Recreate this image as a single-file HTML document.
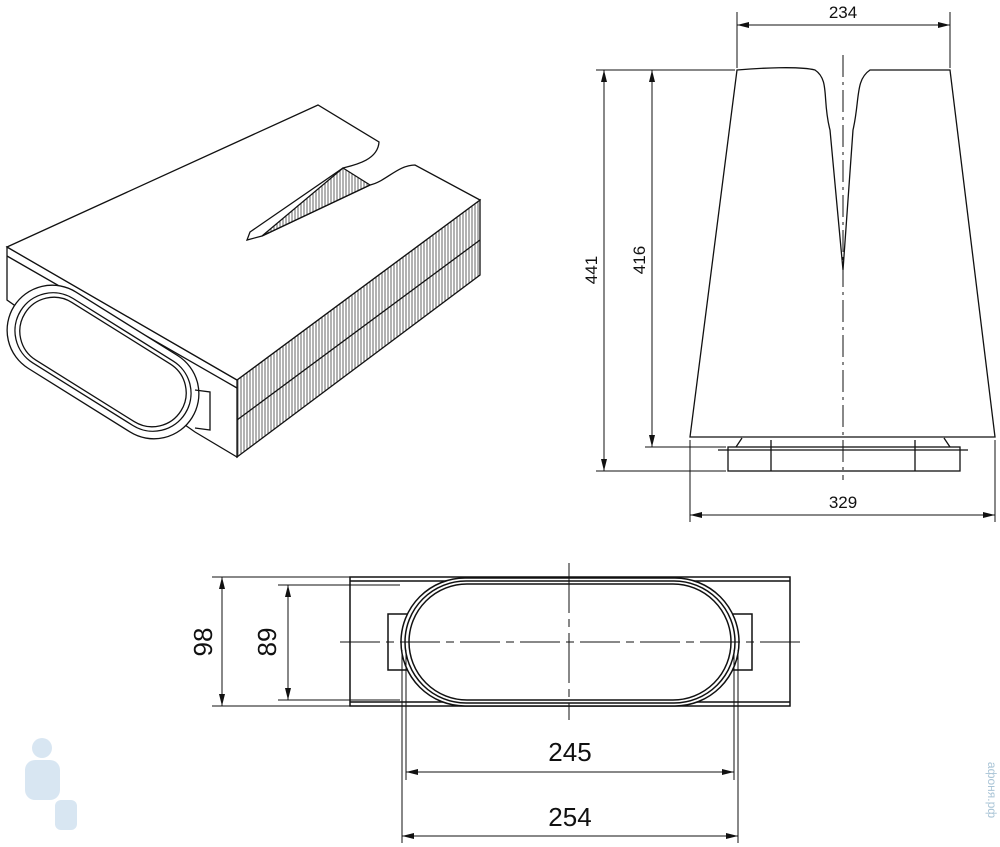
<!DOCTYPE html>
<html><head><style>
html,body{margin:0;padding:0;background:#fff;width:1000px;height:847px;overflow:hidden}
svg{display:block}
text{font-family:"Liberation Sans",sans-serif;fill:#111}
</style></head><body>
<svg width="1000" height="847" viewBox="0 0 1000 847" xmlns="http://www.w3.org/2000/svg">
<defs>
<marker id="a" viewBox="0 0 12 6" refX="12" refY="3" markerWidth="12" markerHeight="6" orient="auto-start-reverse" markerUnits="userSpaceOnUse"><path d="M0,0L12,3L0,6z" fill="#111"/></marker>
<pattern id="h" width="3" height="10" patternUnits="userSpaceOnUse"><rect width="3" height="10" fill="#fff"/><line x1="1" y1="0" x2="1" y2="10" stroke="#555" stroke-width="0.9"/></pattern>
</defs>
<g fill="none" stroke="#111" stroke-width="1.3">
<path d="M237,380 L480,200 L480,275 L237,457 Z" fill="url(#h)"/>
<path d="M7,247 L237,380 L237,457 L195,432 L7,300 Z" fill="#fff"/>
<path d="M7,247 L318,105 L379,142 C378,160 355,165 343,168 L250,232 L247,240 L262,236 L370,185 C385,182 398,165 415,165 L480,200 L237,380 Z" fill="#fff"/>
<path d="M343,168 L370,185 L262,236 Z" fill="url(#h)"/>
<line x1="7" y1="256" x2="237" y2="388"/>
<line x1="237" y1="420" x2="480" y2="240"/>
<g transform="translate(103,362) rotate(32)">
<rect x="-105" y="-45" width="210" height="90" rx="45" fill="#fff"/>
<rect x="-97" y="-38" width="194" height="76" rx="38"/>
<rect x="-92" y="-34" width="184" height="68" rx="34"/>
</g>
<path d="M195,390 L210,392 L210,430 L195,428"/>
<path d="M737,70 C760,68 800,66 815,70 C830,80 822,100 830,130 L843,270 L853,130 C860,100 855,80 870,70 L950,70 L995,437 L690,437 Z" fill="#fff"/>
<rect x="728" y="447" width="232" height="24"/>
<path d="M718,450 L968,450 M736,447 L742,438 M950,447 L944,438"/>
<line x1="771" y1="440" x2="771" y2="471"/><line x1="915" y1="440" x2="915" y2="471"/>
</g>
<g fill="none" stroke="#111" stroke-width="1">
<line x1="843" y1="55" x2="843" y2="480" stroke-dasharray="22,5,3,5"/>
<line x1="737" y1="12" x2="737" y2="68"/><line x1="950" y1="12" x2="950" y2="68"/>
<line x1="737" y1="25" x2="950" y2="25" marker-start="url(#a)" marker-end="url(#a)"/>
<line x1="596" y1="70" x2="735" y2="70"/><line x1="596" y1="471" x2="726" y2="471"/>
<line x1="604" y1="70" x2="604" y2="471" marker-start="url(#a)" marker-end="url(#a)"/>
<line x1="645" y1="447" x2="726" y2="447"/>
<line x1="652" y1="70" x2="652" y2="447" marker-start="url(#a)" marker-end="url(#a)"/>
<line x1="690" y1="440" x2="690" y2="522"/><line x1="995" y1="440" x2="995" y2="522"/>
<line x1="690" y1="515" x2="995" y2="515" marker-start="url(#a)" marker-end="url(#a)"/>
</g>
<text x="843" y="18" font-size="17" text-anchor="middle">234</text>
<text x="843" y="508" font-size="17" text-anchor="middle">329</text>
<text transform="translate(597,270) rotate(-90)" font-size="17" text-anchor="middle">441</text>
<text transform="translate(645,260) rotate(-90)" font-size="17" text-anchor="middle">416</text>
<g fill="none" stroke="#111" stroke-width="1.5">
<rect x="350" y="577" width="440" height="129"/>
<line x1="350" y1="581" x2="790" y2="581"/><line x1="350" y1="702" x2="790" y2="702"/>
<rect x="388" y="614" width="20" height="56" fill="#fff"/>
<rect x="732" y="614" width="20" height="56" fill="#fff"/>
<rect x="401" y="578" width="338" height="128" rx="64" fill="#fff"/>
<rect x="405" y="581" width="330" height="122" rx="61"/>
<rect x="409" y="584" width="322" height="116" rx="58"/>
</g>
<g fill="none" stroke="#111" stroke-width="1">
<line x1="340" y1="642" x2="800" y2="642" stroke-dasharray="40,6,8,6"/>
<line x1="569" y1="563" x2="569" y2="720" stroke-dasharray="50,6,8,6"/>
<line x1="212" y1="577" x2="350" y2="577"/><line x1="212" y1="706" x2="350" y2="706"/>
<line x1="222" y1="577" x2="222" y2="706" marker-start="url(#a)" marker-end="url(#a)"/>
<line x1="278" y1="585" x2="400" y2="585"/><line x1="278" y1="700" x2="400" y2="700"/>
<line x1="288" y1="585" x2="288" y2="700" marker-start="url(#a)" marker-end="url(#a)"/>
<line x1="402" y1="650" x2="402" y2="843"/><line x1="406" y1="650" x2="406" y2="780"/>
<line x1="734" y1="650" x2="734" y2="780"/><line x1="738" y1="650" x2="738" y2="843"/>
<line x1="406" y1="772" x2="734" y2="772" marker-start="url(#a)" marker-end="url(#a)"/>
<line x1="402" y1="836" x2="738" y2="836" marker-start="url(#a)" marker-end="url(#a)"/>
</g>
<text x="570" y="761" font-size="26" text-anchor="middle">245</text>
<text x="570" y="826" font-size="26" text-anchor="middle">254</text>
<text transform="translate(212,642) rotate(-90)" font-size="26" text-anchor="middle">98</text>
<text transform="translate(276,642) rotate(-90)" font-size="26" text-anchor="middle">89</text>
<text transform="translate(988,790) rotate(90)" font-size="12" text-anchor="middle" style="fill:#a9c4d6">афоня.рф</text>
<g fill="#cfe0ef" opacity="0.8"><circle cx="42" cy="748" r="10"/><rect x="25" y="760" width="35" height="40" rx="10"/><rect x="55" y="800" width="22" height="30" rx="6"/></g>
</svg>
</body></html>
